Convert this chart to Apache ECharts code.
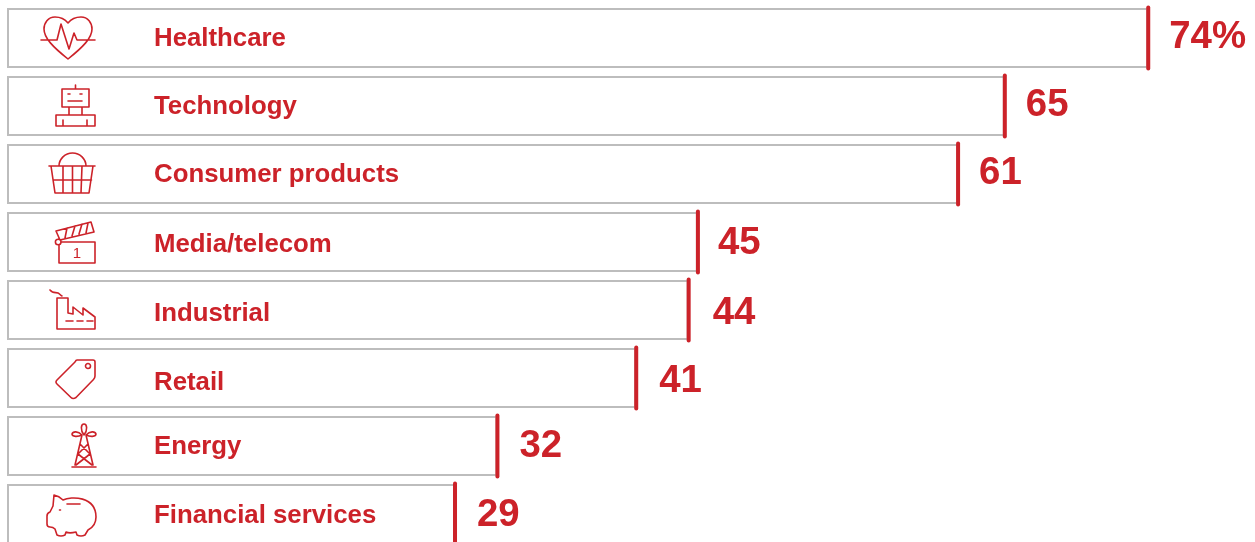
<!DOCTYPE html>
<html><head><meta charset="utf-8">
<style>html,body{margin:0;padding:0;background:#fff}#c{width:1255px;height:542px}</style>
<script src="https://cdn.jsdelivr.net/npm/echarts@6/dist/echarts.min.js"></script>
</head><body><div id="c"></div>
<script>
// Category names and the numbers printed beside each bar.
const categories = ['Healthcare','Technology','Consumer products','Media/telecom','Industrial','Retail','Energy','Financial services'];
const printedLabels = ['74%','65','61','45','44','41','32','29'];
// Bar lengths (the source art is not exactly to scale with its printed numbers).
const barLengths = [74, 64.7, 61.67, 44.8, 44.2, 40.8, 31.8, 29.05];

const RED = '#cc2229', GREY = '#bdbdbd', FONT = '"Liberation Sans", Arial, sans-serif';
const nameNudgeY = [1,1,1,3,4,5,1,2];
const valueNudgeY = [-1,-1,-1,1,3,3,0,1];
const valueNudgeX = [1,1,1,0,4,3,2,2];

const icons = [
  {d:'M0,-15C-4,-20 -9,-21 -13,-21C-20,-21 -24,-15 -24,-9C-24,0 -15,9 0,21C15,9 24,0 24,-9C24,-15 20,-21 13,-21C9,-21 4,-20 0,-15ZM-27,2H-11L-7,-14L1,11L6,-5L9,2H27'},
  {d:'M-6,-17H21V1H-6ZM7.5,-21V-17M0,-12H2M12,-12H14M0,-5H14M1,1V9M14,1V9M-12,9H27V20H-12ZM-5,14V20M19,14V20'},
  {d:'M-19,-8H27M-17,-8L-13,19H21L25,-8M-5,-8V19M4.5,-8V19M14,-8L13,19M-15,6H23.5M-9,-8A13.5,13 0 0 1 18,-8'},
  {d:'M-6.5,0H27V21H-9V3M-12,-11L23,-20L26,-10L-8,-2ZM-3,-4L-1,-14M4,-6L7,-16M11,-8L14,-18M18,-9L20,-19M-7,0A2.8,2.8 0 1 0 -7,0.01', text:'1'},
  {d:'M-11,-12H0V3L5,4V-3L15,5V-2L27,7V19H-11ZM-18,-20C-15,-16 -12,-18 -10,-17C-8,-16 -8,-15 -6,-14M-2,11H5M9,11H15M19,11H25'},
  {d:'M9,-18H25Q27,-18 27,-16V-2Q27,0 25.5,1.5L8,19.5Q5,21.5 3,19.5L-11,6Q-13,4 -11,2L7,-16Q8,-18 9,-18ZM22.5,-12A2.5,2.5 0 1 0 22.5,-11.99'},
  {d:'M4,21H28M14,-11L7,19M18,-11L25,19M12,-2L22,8M20,-2L10,8M10,8L24,19M22,8L8,19M16,-11C12,-16 13,-22 16,-22C19,-22 20,-16 16,-11ZM14,-11C10,-15 5,-15 4,-12C4,-9 10,-9 14,-11ZM18,-11C22,-15 27,-15 28,-12C28,-9 22,-9 18,-11Z'},
  {d:'M-14,-19Q-9,-18 -5,-14C3,-18 28,-18 28,3C28,10 24,14 20,16L17,21Q13,23 9,21L8,18C4,19 0,19 -2,18L-3,21Q-7,23 -11,21L-13,15C-15,13 -16,13 -18,13Q-21,13 -21,10V2Q-21,-1 -18,-2C-17,-4 -16,-6 -15,-8ZM-1,-10H12M-8.5,-4H-7.5'}
];

const chart = echarts.init(document.getElementById('c'), null, {renderer:'canvas'});
chart.setOption({
  animation:false,
  grid:{left:7, top:4, width:1249.2, height:544, outerBoundsMode:'none'},
  xAxis:{type:'value', min:0, max:81, show:false},
  yAxis:{type:'category', data:categories, inverse:true, show:false},
  series:[
    {
      type:'bar', barWidth:60, silent:true, z:2, clip:false,
      itemStyle:{color:'#fff', borderColor:GREY, borderWidth:2},
      data:barLengths.map((v,i)=>({
        value:v,
        label:{show:true, position:'insideLeft', distance:147, offset:[0,nameNudgeY[i]],
          formatter:categories[i], color:RED, fontFamily:FONT, fontWeight:'bold', fontSize:25.8}
      }))
    },
    {
      type:'custom', silent:true, clip:false, z:5,
      data:barLengths.map((v,i)=>[v,i]),
      renderItem:(p,api)=>{
        const i = api.value(1), end = api.coord([api.value(0), i]), start = api.coord([0, i]);
        const kids = [
          {type:'line', shape:{x1:end[0], y1:end[1]-30.5, x2:end[0], y2:end[1]+30.5},
           style:{stroke:RED, lineWidth:4, lineCap:'round'}},
          {type:'text', x:end[0]+20+valueNudgeX[i], y:end[1]+valueNudgeY[i],
           style:{text:printedLabels[i], fill:RED, font:'bold 38.4px '+FONT, textAlign:'left', textVerticalAlign:'middle'}},
          {type:'group', x:start[0]+61, y:start[1], children:[
            {type:'path', shape:{pathData:icons[i].d},
             style:{stroke:RED, fill:'none', lineWidth:1.6, lineJoin:'round', lineCap:'round'}}
          ].concat(icons[i].text ? [{type:'text', x:9, y:12,
             style:{text:icons[i].text, fill:RED, font:'15px '+FONT, textAlign:'center', textVerticalAlign:'middle'}}] : [])}
        ];
        return {type:'group', children:kids};
      }
    }
  ]
});
</script></body></html>
